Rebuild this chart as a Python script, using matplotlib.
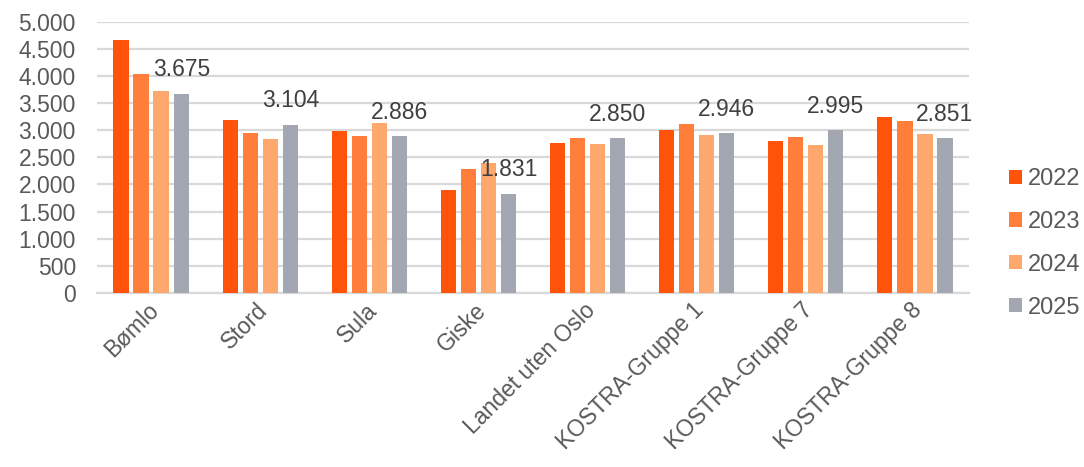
import numpy as np
import matplotlib.pyplot as plt
import matplotlib.transforms as mtransforms
from matplotlib.ticker import FuncFormatter

plt.rcParams['font.family'] = ['Liberation Sans', 'DejaVu Sans']

# Categories and yearly values
categories = ["Bømlo", "Stord", "Sula", "Giske", "Landet uten Oslo",
              "KOSTRA-Gruppe 1", "KOSTRA-Gruppe 7", "KOSTRA-Gruppe 8"]
years = ["2022", "2023", "2024", "2025"]
v2022 = [4660, 3180, 2977, 1907, 2762, 3008, 2793, 3242]
v2023 = [4030, 2946, 2885, 2282, 2848, 3112, 2873, 3162]
v2024 = [3727, 2841, 3125, 2393, 2738, 2910, 2719, 2922]
v2025 = [3675, 3104, 2886, 1831, 2850, 2946, 2995, 2851]
colors = ["#FF5309", "#FF7F3A", "#FFA86E", "#A2A7B2"]

series = [v2022, v2023, v2024, v2025]
x = np.arange(len(categories))
step = 0.1835
width = 0.142


def thousands(v):
    return f"{int(v):,}".replace(",", ".")


fig = plt.figure(figsize=(10.84, 4.67), dpi=100)
ax = fig.add_axes([0.0892, 0.3726, 0.805, 0.581])

for i, (vals, col, yr) in enumerate(zip(series, colors, years)):
    offs = (i - 1.5) * step
    ax.bar(x + offs, vals, width, color=col, label=yr, zorder=3)

# value labels on the last year
for xi, v in zip(x, v2025):
    ax.annotate(thousands(v), (xi + 1.5 * step, v),
                xytext=(0, 12.5), textcoords="offset points",
                ha="center", va="baseline", fontsize=16.5, color="#404040")

ax.set_xlim(-0.5, len(categories) - 0.5)
ax.set_ylim(0, 5000)
ax.set_yticks(np.arange(0, 5001, 500))
ax.yaxis.set_major_formatter(FuncFormatter(lambda v, p: thousands(v)))
ax.grid(axis="y", color="#D9D9D9", linewidth=1.6, zorder=0)
for s in ["top", "right", "left"]:
    ax.spines[s].set_visible(False)
ax.spines["bottom"].set_color("#D9D9D9")
ax.spines["bottom"].set_linewidth(1.6)
ax.tick_params(axis="both", length=0, labelsize=16.5, colors="#595959")
ax.tick_params(axis="y", pad=15)
ax.tick_params(axis="x", pad=10)
ax.set_xticks(x)
ax.set_xticklabels(categories, rotation=45, ha="right", va="center",
                   rotation_mode="anchor")
shift = mtransforms.ScaledTranslation(4 / 100, 0, fig.dpi_scale_trans)
for lbl in ax.get_xticklabels():
    lbl.set_transform(lbl.get_transform() + shift)

ax.legend(loc="center left", bbox_to_anchor=(1.024, 0.183), frameon=False,
          fontsize=17, labelcolor="#595959", handlelength=0.55, handleheight=0.55,
          handletextpad=0.25, labelspacing=0.88, borderaxespad=0.4)

fig.savefig("out.png", dpi=100)
